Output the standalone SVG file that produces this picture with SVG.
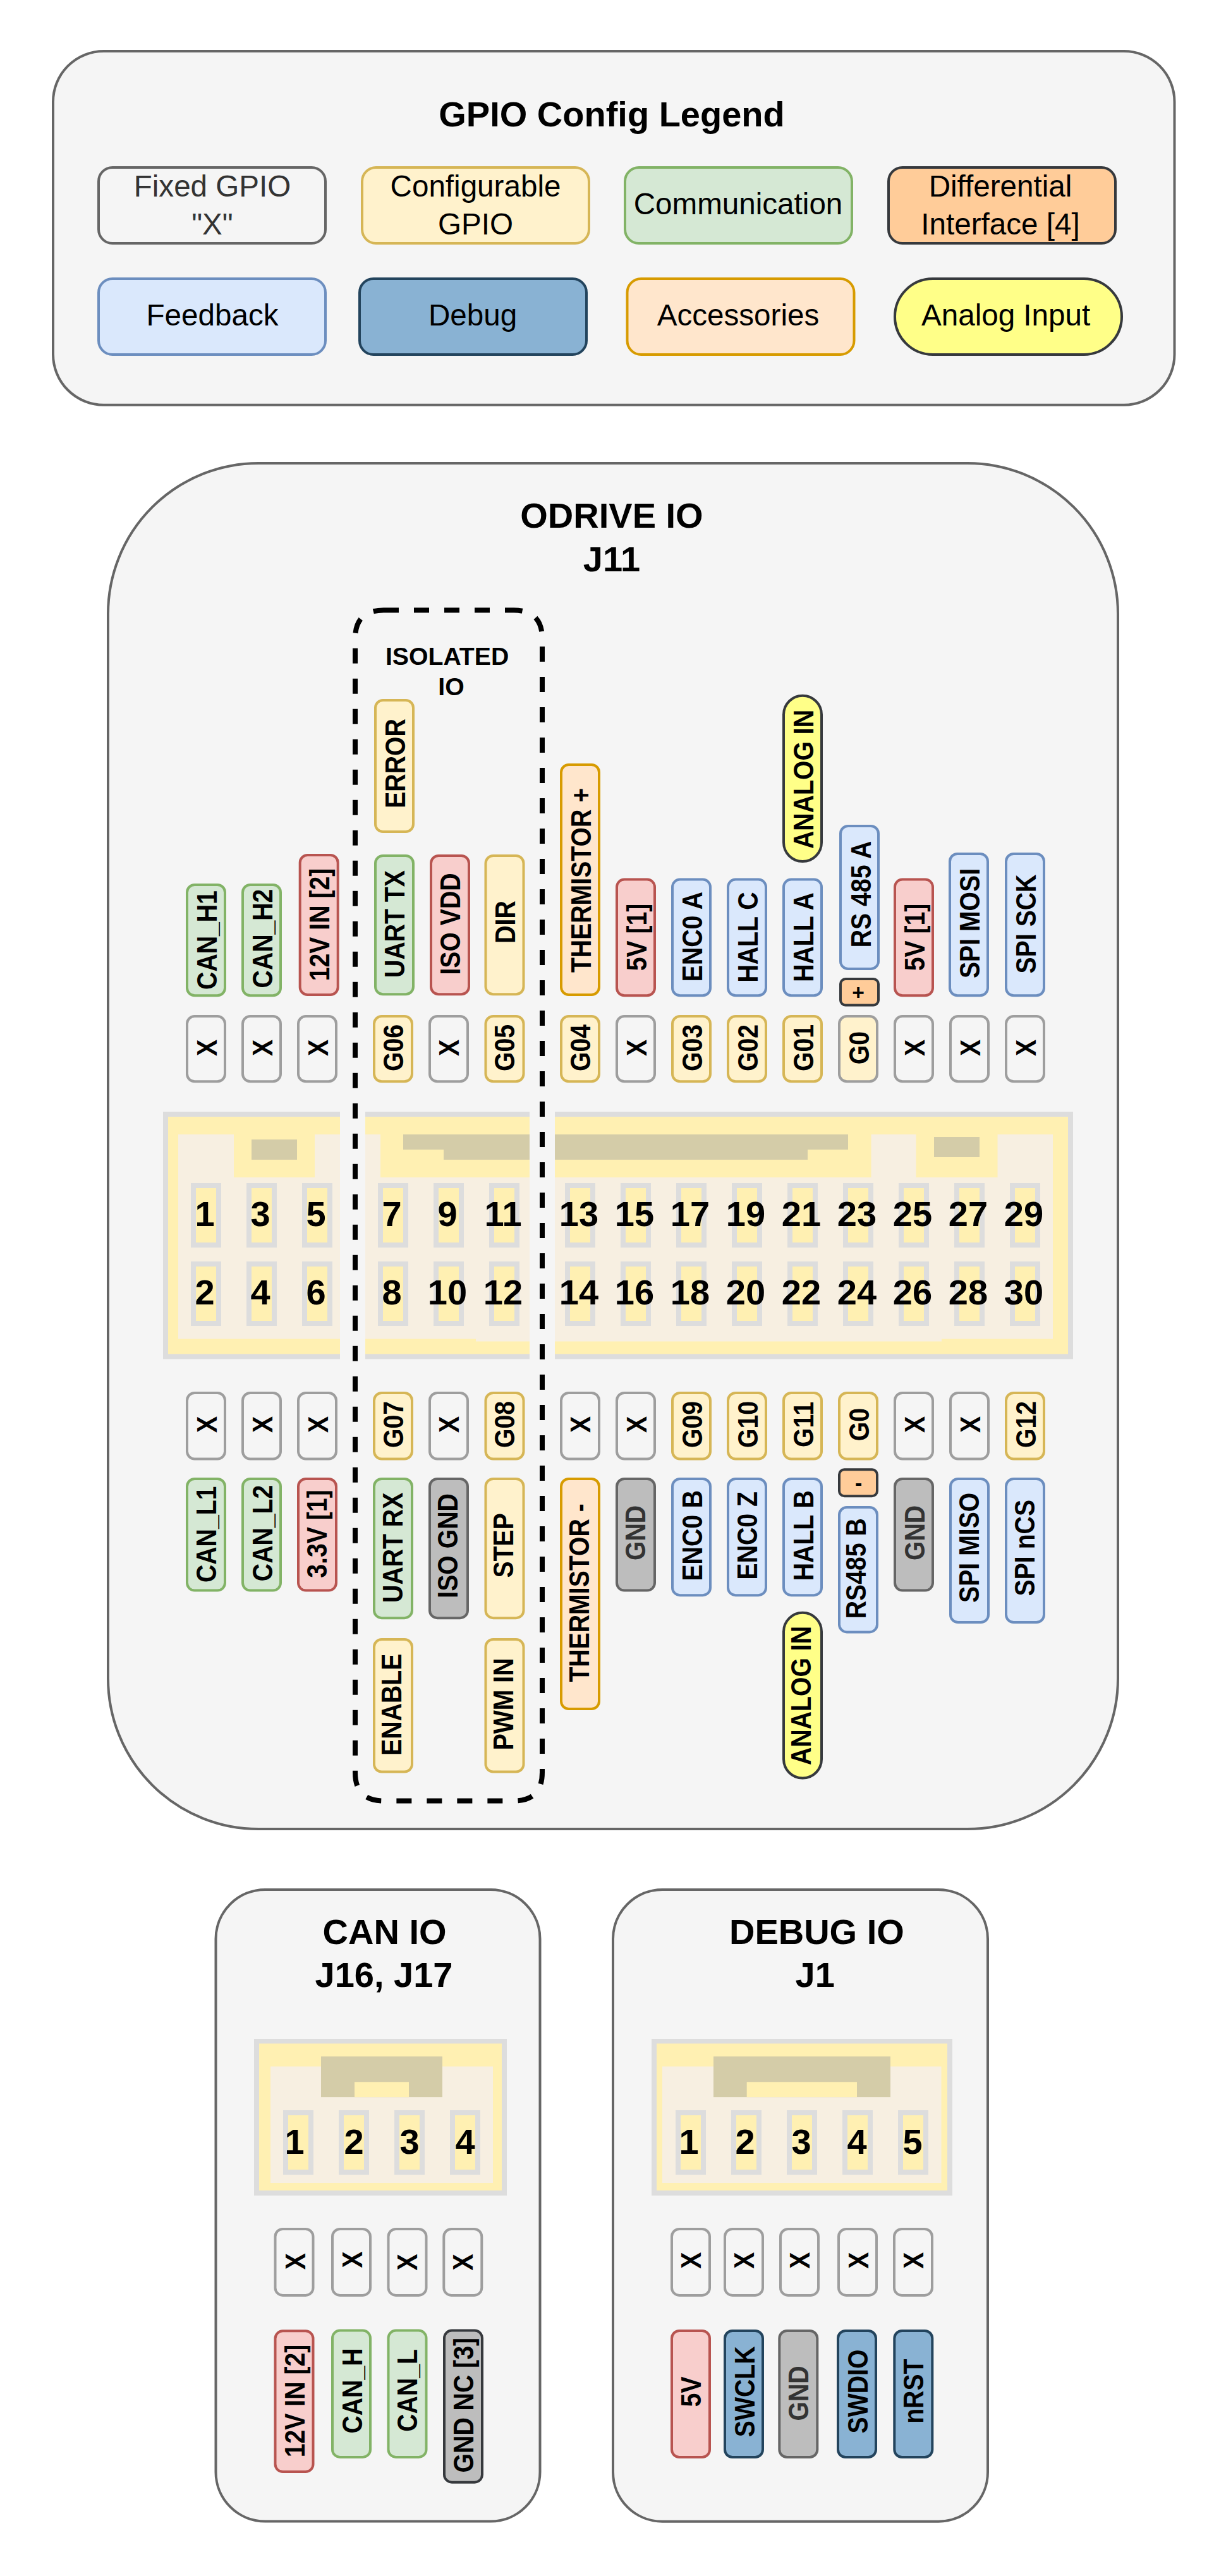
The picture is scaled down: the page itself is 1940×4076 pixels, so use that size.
<svg xmlns="http://www.w3.org/2000/svg" width="1940" height="4076" viewBox="0 0 1940 4076">
<style>
text{font-family:"Liberation Sans",Arial,sans-serif;fill:#000;text-anchor:middle}
.t{font-size:56px;font-weight:700}
.l{font-size:47.6px}
.v{font-size:39.2px;font-weight:700}
.n{font-size:56px;font-weight:700}
.s{font-size:33.6px;font-weight:700}
.dk{fill:#333}
.panel{fill:#f5f5f5;stroke:#666;stroke-width:4}
rect.b{stroke-width:4}
.x{fill:#f5f5f5;stroke:#9e9e9e}
.cfg{fill:#fff2cc;stroke:#d6b656}
.g0{fill:#fff2cc;stroke:#9e9e9e}
.com{fill:#d5e8d4;stroke:#82b366}
.pwr{fill:#f8cecc;stroke:#b85450}
.fb{fill:#dae8fc;stroke:#6c8ebf}
.dbg{fill:#89b2d3;stroke:#23445d}
.acc{fill:#ffe6cc;stroke:#d79b00}
.dif{fill:#ffcc99;stroke:#36393d}
.ana{fill:#ffff88;stroke:#36393d}
.gnd{fill:#bdbdbd;stroke:#666}
.gnc{fill:#bdbdbd;stroke:#36393d}
.fix{fill:#f5f5f5;stroke:#666}
.cg{fill:#ddd}.cy{fill:#fff0b2}.cb{fill:#f7efe1}.ct{fill:#d4cca8}.cs{fill:#f5f5f5}
.dash{fill:none;stroke:#000;stroke-width:8;stroke-dasharray:24 24}
</style>

<g id="legend">
<rect class="panel" x="84" y="81" width="1774.5" height="559.7" rx="80"/>
<text class="t" x="968" y="200">GPIO Config Legend</text>
<g id="leg-fixed"><rect class="b fix" x="156" y="265" width="359" height="120" rx="22"/><text class="l dk" x="336" y="310.7">Fixed GPIO</text><text class="l dk" x="336" y="371">"X"</text></g>
<g id="leg-config"><rect class="b cfg" x="573" y="265" width="359" height="120" rx="22"/><text class="l" x="752.5" y="310.7">Configurable</text><text class="l" x="752.5" y="371">GPIO</text></g>
<g id="leg-comm"><rect class="b com" x="989" y="265" width="359" height="120" rx="22"/><text class="l" x="1168" y="338.6">Communication</text></g>
<g id="leg-diff"><rect class="b dif" x="1406" y="265" width="359" height="120" rx="22"/><text class="l" x="1583" y="310.7">Differential</text><text class="l" x="1583" y="371">Interface [4]</text></g>
<g id="leg-feedback"><rect class="b fb" x="156" y="441" width="359" height="120" rx="22"/><text class="l" x="336" y="515.4">Feedback</text></g>
<g id="leg-debug"><rect class="b dbg" x="569" y="441" width="359" height="120" rx="22"/><text class="l" x="748" y="515.4">Debug</text></g>
<g id="leg-acc"><rect class="b acc" x="992.5" y="441" width="359" height="120" rx="22"/><text class="l" x="1168" y="515.4">Accessories</text></g>
<g id="leg-analog"><rect class="b ana" x="1416" y="441" width="359" height="120" rx="60"/><text class="l" x="1591.6" y="515.4">Analog Input</text></g>
</g>

<g id="odrive-panel">
<rect class="panel" x="171" y="733" width="1598" height="2161" rx="238"/>
<text class="t" x="968" y="835">ODRIVE IO</text>
<text class="t" x="968" y="904">J11</text>
</g>

<g id="j11-connector">
<rect class="cg" x="258" y="1759" width="1440" height="391.5"/>
<rect class="cy" x="266" y="1767" width="1424" height="375.5"/>
<rect class="cb" x="282" y="1795" width="1384" height="323.5"/>
<rect class="cb" x="753" y="2118" width="737" height="4.5"/>
<rect class="cy" x="370" y="1795" width="128" height="68"/>
<rect class="cy" x="602" y="1795" width="776.5" height="68"/>
<rect class="cy" x="1449.5" y="1795" width="129" height="68"/>
<rect class="ct" x="398" y="1803" width="72" height="32"/>
<rect class="ct" x="638" y="1795" width="704" height="24"/>
<rect class="ct" x="702" y="1819" width="576" height="16"/>
<rect class="ct" x="1478" y="1799" width="72" height="32"/>
<g id="j11-pins">
<g id="pin1"><rect class="cg" x="302" y="1872" width="48" height="102"/><rect class="cy" x="310" y="1880" width="32" height="86"/><text class="n" x="324" y="1940">1</text></g>
<g id="pin3"><rect class="cg" x="390" y="1872" width="48" height="102"/><rect class="cy" x="398" y="1880" width="32" height="86"/><text class="n" x="412" y="1940">3</text></g>
<g id="pin5"><rect class="cg" x="478" y="1872" width="48" height="102"/><rect class="cy" x="486" y="1880" width="32" height="86"/><text class="n" x="500" y="1940">5</text></g>
<g id="pin7"><rect class="cg" x="598" y="1872" width="48" height="102"/><rect class="cy" x="606" y="1880" width="32" height="86"/><text class="n" x="620" y="1940">7</text></g>
<g id="pin9"><rect class="cg" x="686" y="1872" width="48" height="102"/><rect class="cy" x="694" y="1880" width="32" height="86"/><text class="n" x="708" y="1940">9</text></g>
<g id="pin11"><rect class="cg" x="774" y="1872" width="48" height="102"/><rect class="cy" x="782" y="1880" width="32" height="86"/><text class="n" x="796" y="1940">11</text></g>
<g id="pin13"><rect class="cg" x="894" y="1872" width="48" height="102"/><rect class="cy" x="902" y="1880" width="32" height="86"/><text class="n" x="916" y="1940">13</text></g>
<g id="pin15"><rect class="cg" x="982" y="1872" width="48" height="102"/><rect class="cy" x="990" y="1880" width="32" height="86"/><text class="n" x="1004" y="1940">15</text></g>
<g id="pin17"><rect class="cg" x="1070" y="1872" width="48" height="102"/><rect class="cy" x="1078" y="1880" width="32" height="86"/><text class="n" x="1092" y="1940">17</text></g>
<g id="pin19"><rect class="cg" x="1158" y="1872" width="48" height="102"/><rect class="cy" x="1166" y="1880" width="32" height="86"/><text class="n" x="1180" y="1940">19</text></g>
<g id="pin21"><rect class="cg" x="1246" y="1872" width="48" height="102"/><rect class="cy" x="1254" y="1880" width="32" height="86"/><text class="n" x="1268" y="1940">21</text></g>
<g id="pin23"><rect class="cg" x="1334" y="1872" width="48" height="102"/><rect class="cy" x="1342" y="1880" width="32" height="86"/><text class="n" x="1356" y="1940">23</text></g>
<g id="pin25"><rect class="cg" x="1422" y="1872" width="48" height="102"/><rect class="cy" x="1430" y="1880" width="32" height="86"/><text class="n" x="1444" y="1940">25</text></g>
<g id="pin27"><rect class="cg" x="1510" y="1872" width="48" height="102"/><rect class="cy" x="1518" y="1880" width="32" height="86"/><text class="n" x="1532" y="1940">27</text></g>
<g id="pin29"><rect class="cg" x="1598" y="1872" width="48" height="102"/><rect class="cy" x="1606" y="1880" width="32" height="86"/><text class="n" x="1620" y="1940">29</text></g>
<g id="pin2"><rect class="cg" x="302" y="1996" width="48" height="102"/><rect class="cy" x="310" y="2004" width="32" height="86"/><text class="n" x="324" y="2064">2</text></g>
<g id="pin4"><rect class="cg" x="390" y="1996" width="48" height="102"/><rect class="cy" x="398" y="2004" width="32" height="86"/><text class="n" x="412" y="2064">4</text></g>
<g id="pin6"><rect class="cg" x="478" y="1996" width="48" height="102"/><rect class="cy" x="486" y="2004" width="32" height="86"/><text class="n" x="500" y="2064">6</text></g>
<g id="pin8"><rect class="cg" x="598" y="1996" width="48" height="102"/><rect class="cy" x="606" y="2004" width="32" height="86"/><text class="n" x="620" y="2064">8</text></g>
<g id="pin10"><rect class="cg" x="686" y="1996" width="48" height="102"/><rect class="cy" x="694" y="2004" width="32" height="86"/><text class="n" x="708" y="2064">10</text></g>
<g id="pin12"><rect class="cg" x="774" y="1996" width="48" height="102"/><rect class="cy" x="782" y="2004" width="32" height="86"/><text class="n" x="796" y="2064">12</text></g>
<g id="pin14"><rect class="cg" x="894" y="1996" width="48" height="102"/><rect class="cy" x="902" y="2004" width="32" height="86"/><text class="n" x="916" y="2064">14</text></g>
<g id="pin16"><rect class="cg" x="982" y="1996" width="48" height="102"/><rect class="cy" x="990" y="2004" width="32" height="86"/><text class="n" x="1004" y="2064">16</text></g>
<g id="pin18"><rect class="cg" x="1070" y="1996" width="48" height="102"/><rect class="cy" x="1078" y="2004" width="32" height="86"/><text class="n" x="1092" y="2064">18</text></g>
<g id="pin20"><rect class="cg" x="1158" y="1996" width="48" height="102"/><rect class="cy" x="1166" y="2004" width="32" height="86"/><text class="n" x="1180" y="2064">20</text></g>
<g id="pin22"><rect class="cg" x="1246" y="1996" width="48" height="102"/><rect class="cy" x="1254" y="2004" width="32" height="86"/><text class="n" x="1268" y="2064">22</text></g>
<g id="pin24"><rect class="cg" x="1334" y="1996" width="48" height="102"/><rect class="cy" x="1342" y="2004" width="32" height="86"/><text class="n" x="1356" y="2064">24</text></g>
<g id="pin26"><rect class="cg" x="1422" y="1996" width="48" height="102"/><rect class="cy" x="1430" y="2004" width="32" height="86"/><text class="n" x="1444" y="2064">26</text></g>
<g id="pin28"><rect class="cg" x="1510" y="1996" width="48" height="102"/><rect class="cy" x="1518" y="2004" width="32" height="86"/><text class="n" x="1532" y="2064">28</text></g>
<g id="pin30"><rect class="cg" x="1598" y="1996" width="48" height="102"/><rect class="cy" x="1606" y="2004" width="32" height="86"/><text class="n" x="1620" y="2064">30</text></g>
</g>
</g>

<g id="isolated-group">
<rect class="cs" x="538" y="1755" width="40" height="400"/>
<rect class="cs" x="838" y="1755" width="40" height="400"/>
<path class="dash" d="M607 965.5L813 965.5"/>
<path class="dash" style="stroke-dashoffset:10.5" d="M813 965.5Q858 965.5 858 1010.5L858 2804.5Q858 2849.5 813 2849.5L607 2849.5Q562 2849.5 562 2804.5L562 1010.5Q562 965.5 607 965.5"/>
<text class="v" x="707.6" y="1051.6">ISOLATED</text>
<text class="v" x="714" y="1099.5">IO</text>
</g>

<g id="j11-top-x">
<g id="t1"><rect class="b x" x="296" y="1608" width="60" height="103.3" rx="12"/><text class="v" transform="translate(342.5 1658) rotate(-90) scale(1 1.11)">X</text></g>
<g id="t3"><rect class="b x" x="384" y="1608" width="60" height="103.3" rx="12"/><text class="v" transform="translate(430.7 1658) rotate(-90) scale(1 1.11)">X</text></g>
<g id="t5"><rect class="b x" x="472" y="1608" width="60" height="103.3" rx="12"/><text class="v" transform="translate(518.7 1658) rotate(-90) scale(1 1.11)">X</text></g>
<g id="t7"><rect class="b cfg" x="592" y="1608" width="60" height="103.3" rx="12"/><text class="v" transform="translate(638.3 1658) rotate(-90) scale(1 1.11)">G06</text></g>
<g id="t9"><rect class="b x" x="680" y="1608" width="60" height="103.3" rx="12"/><text class="v" transform="translate(726 1658) rotate(-90) scale(1 1.11)">X</text></g>
<g id="t11"><rect class="b cfg" x="768.5" y="1608" width="60" height="103.3" rx="12"/><text class="v" transform="translate(814 1658) rotate(-90) scale(1 1.11)">G05</text></g>
<g id="t13"><rect class="b cfg" x="888" y="1608" width="60" height="103.3" rx="12"/><text class="v" transform="translate(933.6 1658) rotate(-90) scale(1 1.11)">G04</text></g>
<g id="t15"><rect class="b x" x="976" y="1608" width="60" height="103.3" rx="12"/><text class="v" transform="translate(1022.5 1658) rotate(-90) scale(1 1.11)">X</text></g>
<g id="t17"><rect class="b cfg" x="1064" y="1608" width="60" height="103.3" rx="12"/><text class="v" transform="translate(1110.7 1658) rotate(-90) scale(1 1.11)">G03</text></g>
<g id="t19"><rect class="b cfg" x="1152" y="1608" width="60" height="103.3" rx="12"/><text class="v" transform="translate(1199 1658) rotate(-90) scale(1 1.11)">G02</text></g>
<g id="t21"><rect class="b cfg" x="1240" y="1608" width="60" height="103.3" rx="12"/><text class="v" transform="translate(1287 1658) rotate(-90) scale(1 1.11)">G01</text></g>
<g id="t23"><rect class="b g0" x="1328" y="1608" width="60" height="103.3" rx="12"/><text class="v" transform="translate(1375 1658) rotate(-90) scale(1 1.11)">G0</text></g>
<g id="t25"><rect class="b x" x="1416" y="1608" width="60" height="103.3" rx="12"/><text class="v" transform="translate(1463 1658) rotate(-90) scale(1 1.11)">X</text></g>
<g id="t27"><rect class="b x" x="1504" y="1608" width="60" height="103.3" rx="12"/><text class="v" transform="translate(1551 1658) rotate(-90) scale(1 1.11)">X</text></g>
<g id="t29"><rect class="b x" x="1592" y="1608" width="60" height="103.3" rx="12"/><text class="v" transform="translate(1639 1658) rotate(-90) scale(1 1.11)">X</text></g>
</g>

<g id="j11-top-labels">
<g id="can-h1"><rect class="b com" x="296" y="1400" width="60" height="175.3" rx="12"/><text class="v" transform="translate(342.7 1487.5) rotate(-90) scale(1 1.11)">CAN_H1</text></g>
<g id="can-h2"><rect class="b com" x="384" y="1400" width="60" height="175.3" rx="12"/><text class="v" transform="translate(431 1485) rotate(-90) scale(1 1.11)">CAN_H2</text></g>
<g id="v12-in"><rect class="b pwr" x="474.7" y="1353" width="60" height="221" rx="12"/><text class="v" transform="translate(520.7 1463) rotate(-90) scale(1 1.11)">12V IN [2]</text></g>
<g id="error"><rect class="b cfg" x="594" y="1108" width="60" height="208" rx="12"/><text class="v" transform="translate(640.5 1208) rotate(-90) scale(1 1.11)">ERROR</text></g>
<g id="uart-tx"><rect class="b com" x="594" y="1354" width="60" height="219.3" rx="12"/><text class="v" transform="translate(640 1462) rotate(-90) scale(1 1.11)">UART TX</text></g>
<g id="iso-vdd"><rect class="b pwr" x="682" y="1354" width="60" height="219.3" rx="12"/><text class="v" transform="translate(728 1462) rotate(-90) scale(1 1.11)">ISO VDD</text></g>
<g id="dir"><rect class="b cfg" x="768.5" y="1354" width="60" height="219.3" rx="12"/><text class="v" transform="translate(814.5 1459) rotate(-90) scale(1 1.11)">DIR</text></g>
<g id="therm-p"><rect class="b acc" x="888" y="1210" width="60" height="364" rx="12"/><text class="v" transform="translate(934.5 1393) rotate(-90) scale(1 1.11)">THERMISTOR +</text></g>
<g id="v5-a"><rect class="b pwr" x="976" y="1391.6" width="60" height="183.7" rx="12"/><text class="v" transform="translate(1022.5 1483) rotate(-90) scale(1 1.11)">5V [1]</text></g>
<g id="enc0-a"><rect class="b fb" x="1064" y="1391.6" width="60" height="183.7" rx="12"/><text class="v" transform="translate(1110.7 1482) rotate(-90) scale(1 1.11)">ENC0 A</text></g>
<g id="hall-c"><rect class="b fb" x="1152" y="1391.6" width="60" height="183.7" rx="12"/><text class="v" transform="translate(1199 1483) rotate(-90) scale(1 1.11)">HALL C</text></g>
<g id="hall-a"><rect class="b fb" x="1240" y="1391.6" width="60" height="183.7" rx="12"/><text class="v" transform="translate(1287 1483) rotate(-90) scale(1 1.11)">HALL A</text></g>
<g id="analog-a"><rect class="b ana" x="1240" y="1100.7" width="60" height="262.3" rx="30"/><text class="v" transform="translate(1287 1233) rotate(-90) scale(1 1.11)">ANALOG IN</text></g>
<g id="rs485-a"><rect class="b fb" x="1330" y="1307" width="60" height="226" rx="12"/><text class="v" transform="translate(1377.5 1415) rotate(-90) scale(1 1.11)">RS 485 A</text></g>
<g id="plus"><rect class="b dif" x="1330" y="1549" width="60" height="41.5" rx="8"/><text class="s" x="1358" y="1581.5">+</text></g>
<g id="v5-b"><rect class="b pwr" x="1416" y="1391.6" width="60" height="183.7" rx="12"/><text class="v" transform="translate(1463 1483) rotate(-90) scale(1 1.11)">5V [1]</text></g>
<g id="spi-mosi"><rect class="b fb" x="1503" y="1351" width="60" height="224.3" rx="12"/><text class="v" transform="translate(1550 1461) rotate(-90) scale(1 1.11)">SPI MOSI</text></g>
<g id="spi-sck"><rect class="b fb" x="1592" y="1351" width="60" height="224.3" rx="12"/><text class="v" transform="translate(1639 1462) rotate(-90) scale(1 1.11)">SPI SCK</text></g>
</g>

<g id="j11-bottom-x">
<g id="b2"><rect class="b x" x="296" y="2204" width="60" height="104.5" rx="12"/><text class="v" transform="translate(342.5 2254) rotate(-90) scale(1 1.11)">X</text></g>
<g id="b4"><rect class="b x" x="384" y="2204" width="60" height="104.5" rx="12"/><text class="v" transform="translate(430.7 2254) rotate(-90) scale(1 1.11)">X</text></g>
<g id="b6"><rect class="b x" x="472" y="2204" width="60" height="104.5" rx="12"/><text class="v" transform="translate(518.7 2254) rotate(-90) scale(1 1.11)">X</text></g>
<g id="b8"><rect class="b cfg" x="592" y="2204" width="60" height="104.5" rx="12"/><text class="v" transform="translate(638.3 2254) rotate(-90) scale(1 1.11)">G07</text></g>
<g id="b10"><rect class="b x" x="680" y="2204" width="60" height="104.5" rx="12"/><text class="v" transform="translate(726 2254) rotate(-90) scale(1 1.11)">X</text></g>
<g id="b12"><rect class="b cfg" x="768.5" y="2204" width="60" height="104.5" rx="12"/><text class="v" transform="translate(814 2254) rotate(-90) scale(1 1.11)">G08</text></g>
<g id="b14"><rect class="b x" x="888" y="2204" width="60" height="104.5" rx="12"/><text class="v" transform="translate(933.6 2254) rotate(-90) scale(1 1.11)">X</text></g>
<g id="b16"><rect class="b x" x="976" y="2204" width="60" height="104.5" rx="12"/><text class="v" transform="translate(1022.5 2254) rotate(-90) scale(1 1.11)">X</text></g>
<g id="b18"><rect class="b cfg" x="1064" y="2204" width="60" height="104.5" rx="12"/><text class="v" transform="translate(1110.7 2254) rotate(-90) scale(1 1.11)">G09</text></g>
<g id="b20"><rect class="b cfg" x="1152" y="2204" width="60" height="104.5" rx="12"/><text class="v" transform="translate(1199 2254) rotate(-90) scale(1 1.11)">G10</text></g>
<g id="b22"><rect class="b cfg" x="1240" y="2204" width="60" height="104.5" rx="12"/><text class="v" transform="translate(1287 2254) rotate(-90) scale(1 1.11)">G11</text></g>
<g id="b24"><rect class="b cfg" x="1328" y="2204" width="60" height="104.5" rx="12"/><text class="v" transform="translate(1375 2254) rotate(-90) scale(1 1.11)">G0</text></g>
<g id="b26"><rect class="b x" x="1416" y="2204" width="60" height="104.5" rx="12"/><text class="v" transform="translate(1463 2254) rotate(-90) scale(1 1.11)">X</text></g>
<g id="b28"><rect class="b x" x="1504" y="2204" width="60" height="104.5" rx="12"/><text class="v" transform="translate(1551 2254) rotate(-90) scale(1 1.11)">X</text></g>
<g id="b30"><rect class="b cfg" x="1592" y="2204" width="60" height="104.5" rx="12"/><text class="v" transform="translate(1639 2254) rotate(-90) scale(1 1.11)">G12</text></g>
</g>

<g id="j11-bottom-labels">
<g id="can-l1"><rect class="b com" x="296" y="2340" width="60" height="176.6" rx="12"/><text class="v" transform="translate(342 2427.8) rotate(-90) scale(1 1.11)">CAN_L1</text></g>
<g id="can-l2"><rect class="b com" x="384" y="2340" width="60" height="176.6" rx="12"/><text class="v" transform="translate(431 2425.9) rotate(-90) scale(1 1.11)">CAN_L2</text></g>
<g id="v33"><rect class="b pwr" x="472" y="2340" width="60" height="176.6" rx="12"/><text class="v" transform="translate(517 2427) rotate(-90) scale(1 1.11)">3.3V [1]</text></g>
<g id="uart-rx"><rect class="b com" x="592" y="2340" width="60" height="220.2" rx="12"/><text class="v" transform="translate(637 2448.8) rotate(-90) scale(1 1.11)">UART RX</text></g>
<g id="iso-gnd"><rect class="b gnd" x="680" y="2340" width="60" height="220.2" rx="12"/><text class="v" transform="translate(724 2446) rotate(-90) scale(1 1.11)">ISO GND</text></g>
<g id="step"><rect class="b cfg" x="768.5" y="2340" width="60" height="220.2" rx="12"/><text class="v" transform="translate(812 2445.4) rotate(-90) scale(1 1.11)">STEP</text></g>
<g id="enable"><rect class="b cfg" x="592" y="2594" width="60" height="209.5" rx="12"/><text class="v" transform="translate(635 2697.2) rotate(-90) scale(1 1.11)">ENABLE</text></g>
<g id="pwm-in"><rect class="b cfg" x="768.5" y="2594" width="60" height="209.5" rx="12"/><text class="v" transform="translate(812 2696.4) rotate(-90) scale(1 1.11)">PWM IN</text></g>
<g id="therm-n"><rect class="b acc" x="888" y="2340" width="60" height="364" rx="12"/><text class="v" transform="translate(932 2520.4) rotate(-90) scale(1 1.11)">THERMISTOR -</text></g>
<g id="gnd-a"><rect class="b gnd" x="976" y="2340" width="60" height="176.6" rx="12"/><text class="v dk" transform="translate(1021 2425.5) rotate(-90) scale(1 1.11)">GND</text></g>
<g id="enc0-b"><rect class="b fb" x="1064" y="2340" width="60" height="184.2" rx="12"/><text class="v" transform="translate(1110.7 2429.7) rotate(-90) scale(1 1.11)">ENC0 B</text></g>
<g id="enc0-z"><rect class="b fb" x="1152" y="2340" width="60" height="184.2" rx="12"/><text class="v" transform="translate(1198 2429.7) rotate(-90) scale(1 1.11)">ENC0 Z</text></g>
<g id="hall-b"><rect class="b fb" x="1240" y="2340" width="60" height="184.2" rx="12"/><text class="v" transform="translate(1287 2429.7) rotate(-90) scale(1 1.11)">HALL B</text></g>
<g id="minus"><rect class="b dif" x="1328" y="2325.2" width="60" height="42" rx="8"/><text class="s" x="1358.7" y="2358">-</text></g>
<g id="rs485-b"><rect class="b fb" x="1328" y="2385" width="60" height="197.4" rx="12"/><text class="v" transform="translate(1370 2481.8) rotate(-90) scale(1 1.11)">RS485 B</text></g>
<g id="gnd-b"><rect class="b gnd" x="1416" y="2340" width="60" height="176.6" rx="12"/><text class="v dk" transform="translate(1463 2425.5) rotate(-90) scale(1 1.11)">GND</text></g>
<g id="spi-miso"><rect class="b fb" x="1504" y="2340" width="60" height="227" rx="12"/><text class="v" transform="translate(1548.5 2448.8) rotate(-90) scale(1 1.11)">SPI MISO</text></g>
<g id="spi-ncs"><rect class="b fb" x="1592" y="2340" width="60" height="227" rx="12"/><text class="v" transform="translate(1637 2449.2) rotate(-90) scale(1 1.11)">SPI nCS</text></g>
<g id="analog-b"><rect class="b ana" x="1240" y="2551.8" width="60" height="261.7" rx="30"/><text class="v" transform="translate(1283 2683) rotate(-90) scale(1 1.11)">ANALOG IN</text></g>
</g>

<g id="can-io">
<rect class="panel" x="341.5" y="2990" width="513" height="999.5" rx="78"/>
<text class="t" x="608.6" y="3076">CAN IO</text>
<text class="t" x="607.5" y="3143.7">J16, J17</text>
<g id="can-connector">
<rect class="cg" x="402" y="3226" width="400" height="248"/><rect class="cy" x="410" y="3233.5" width="384" height="232.5"/><rect class="cb" x="428" y="3269.7" width="352" height="184.3"/>
<rect class="ct" x="508" y="3253.8" width="192" height="64.4"/><rect class="cy" x="561" y="3294.3" width="86" height="23.9"/>
<g id="can-pin1"><rect class="cg" x="448" y="3339" width="48" height="102"/><rect class="cy" x="456" y="3347" width="32" height="86"/><text class="n" x="466" y="3407.7">1</text></g>
<g id="can-pin2"><rect class="cg" x="536" y="3339" width="48" height="102"/><rect class="cy" x="544" y="3347" width="32" height="86"/><text class="n" x="560" y="3407.7">2</text></g>
<g id="can-pin3"><rect class="cg" x="624" y="3339" width="48" height="102"/><rect class="cy" x="632" y="3347" width="32" height="86"/><text class="n" x="648" y="3407.7">3</text></g>
<g id="can-pin4"><rect class="cg" x="712" y="3339" width="48" height="102"/><rect class="cy" x="720" y="3347" width="32" height="86"/><text class="n" x="736" y="3407.7">4</text></g>
</g>
<g id="can-x1"><rect class="b x" x="435.5" y="3527" width="60" height="104.9" rx="12"/><text class="v" transform="translate(482.5 3578.2) rotate(-90) scale(1 1.11)">X</text></g>
<g id="can-x2"><rect class="b x" x="526" y="3527" width="60" height="104.9" rx="12"/><text class="v" transform="translate(572.5 3575.5) rotate(-90) scale(1 1.11)">X</text></g>
<g id="can-x3"><rect class="b x" x="614.5" y="3527" width="60" height="104.9" rx="12"/><text class="v" transform="translate(660 3579.5) rotate(-90) scale(1 1.11)">X</text></g>
<g id="can-x4"><rect class="b x" x="702.3" y="3527" width="60" height="104.9" rx="12"/><text class="v" transform="translate(748 3579.5) rotate(-90) scale(1 1.11)">X</text></g>
<g id="can-12v"><rect class="b pwr" x="435.5" y="3688.3" width="60" height="222.8" rx="12"/><text class="v" transform="translate(482 3799) rotate(-90) scale(1 1.11)">12V IN [2]</text></g>
<g id="can-h"><rect class="b com" x="526" y="3687.6" width="60" height="200.3" rx="12"/><text class="v" transform="translate(572.5 3783) rotate(-90) scale(1 1.11)">CAN_H</text></g>
<g id="can-l"><rect class="b com" x="614.5" y="3687.6" width="60" height="200.3" rx="12"/><text class="v" transform="translate(660 3782.4) rotate(-90) scale(1 1.11)">CAN_L</text></g>
<g id="can-gnd"><rect class="b gnc" x="703" y="3687.6" width="60" height="240.1" rx="12"/><text class="v" transform="translate(748.6 3805.7) rotate(-90) scale(1 1.11)">GND NC [3]</text></g>
</g>

<g id="debug-io">
<rect class="panel" x="970" y="2990" width="593" height="999.7" rx="78"/>
<text class="t" x="1292.4" y="3076">DEBUG IO</text>
<text class="t" x="1289.7" y="3143.7">J1</text>
<g id="debug-connector">
<rect class="cg" x="1031" y="3226" width="476" height="248"/><rect class="cy" x="1039" y="3233.5" width="460" height="232.5"/><rect class="cb" x="1048" y="3269.7" width="441.5" height="184.3"/>
<rect class="ct" x="1129" y="3253.8" width="280" height="64.4"/><rect class="cy" x="1181.7" y="3294.3" width="174.3" height="23.9"/>
<g id="dbg-pin1"><rect class="cg" x="1069" y="3339" width="48" height="102"/><rect class="cy" x="1077" y="3347" width="32" height="86"/><text class="n" x="1090" y="3407.7">1</text></g>
<g id="dbg-pin2"><rect class="cg" x="1157" y="3339" width="48" height="102"/><rect class="cy" x="1165" y="3347" width="32" height="86"/><text class="n" x="1179" y="3407.7">2</text></g>
<g id="dbg-pin3"><rect class="cg" x="1245" y="3339" width="48" height="102"/><rect class="cy" x="1253" y="3347" width="32" height="86"/><text class="n" x="1268" y="3407.7">3</text></g>
<g id="dbg-pin4"><rect class="cg" x="1333" y="3339" width="48" height="102"/><rect class="cy" x="1341" y="3347" width="32" height="86"/><text class="n" x="1356" y="3407.7">4</text></g>
<g id="dbg-pin5"><rect class="cg" x="1421" y="3339" width="48" height="102"/><rect class="cy" x="1429" y="3347" width="32" height="86"/><text class="n" x="1444" y="3407.7">5</text></g>
</g>
<g id="dbg-x1"><rect class="b x" x="1063" y="3527" width="60" height="104.9" rx="12"/><text class="v" transform="translate(1109.4 3576.8) rotate(-90) scale(1 1.11)">X</text></g>
<g id="dbg-x2"><rect class="b x" x="1147" y="3527" width="60" height="104.9" rx="12"/><text class="v" transform="translate(1193.2 3576.8) rotate(-90) scale(1 1.11)">X</text></g>
<g id="dbg-x3"><rect class="b x" x="1235" y="3527" width="60" height="104.9" rx="12"/><text class="v" transform="translate(1281.4 3576.8) rotate(-90) scale(1 1.11)">X</text></g>
<g id="dbg-x4"><rect class="b x" x="1327" y="3527" width="60" height="104.9" rx="12"/><text class="v" transform="translate(1373.5 3576.8) rotate(-90) scale(1 1.11)">X</text></g>
<g id="dbg-x5"><rect class="b x" x="1415" y="3527" width="60" height="104.9" rx="12"/><text class="v" transform="translate(1461.3 3576.8) rotate(-90) scale(1 1.11)">X</text></g>
<g id="dbg-5v"><rect class="b pwr" x="1063" y="3688" width="60" height="200" rx="12"/><text class="v" transform="translate(1109 3784.4) rotate(-90) scale(1 1.11)">5V</text></g>
<g id="dbg-swclk"><rect class="b dbg" x="1147" y="3688" width="60" height="200" rx="12"/><text class="v" transform="translate(1194 3784.4) rotate(-90) scale(1 1.11)">SWCLK</text></g>
<g id="dbg-gnd"><rect class="b gnd" x="1233.3" y="3688" width="60" height="200" rx="12"/><text class="v dk" transform="translate(1279.3 3787) rotate(-90) scale(1 1.11)">GND</text></g>
<g id="dbg-swdio"><rect class="b dbg" x="1326" y="3688" width="60" height="200" rx="12"/><text class="v" transform="translate(1372.7 3784) rotate(-90) scale(1 1.11)">SWDIO</text></g>
<g id="dbg-nrst"><rect class="b dbg" x="1415.3" y="3688" width="60" height="200" rx="12"/><text class="v" transform="translate(1461 3783.7) rotate(-90) scale(1 1.11)">nRST</text></g>
</g>
</svg>
